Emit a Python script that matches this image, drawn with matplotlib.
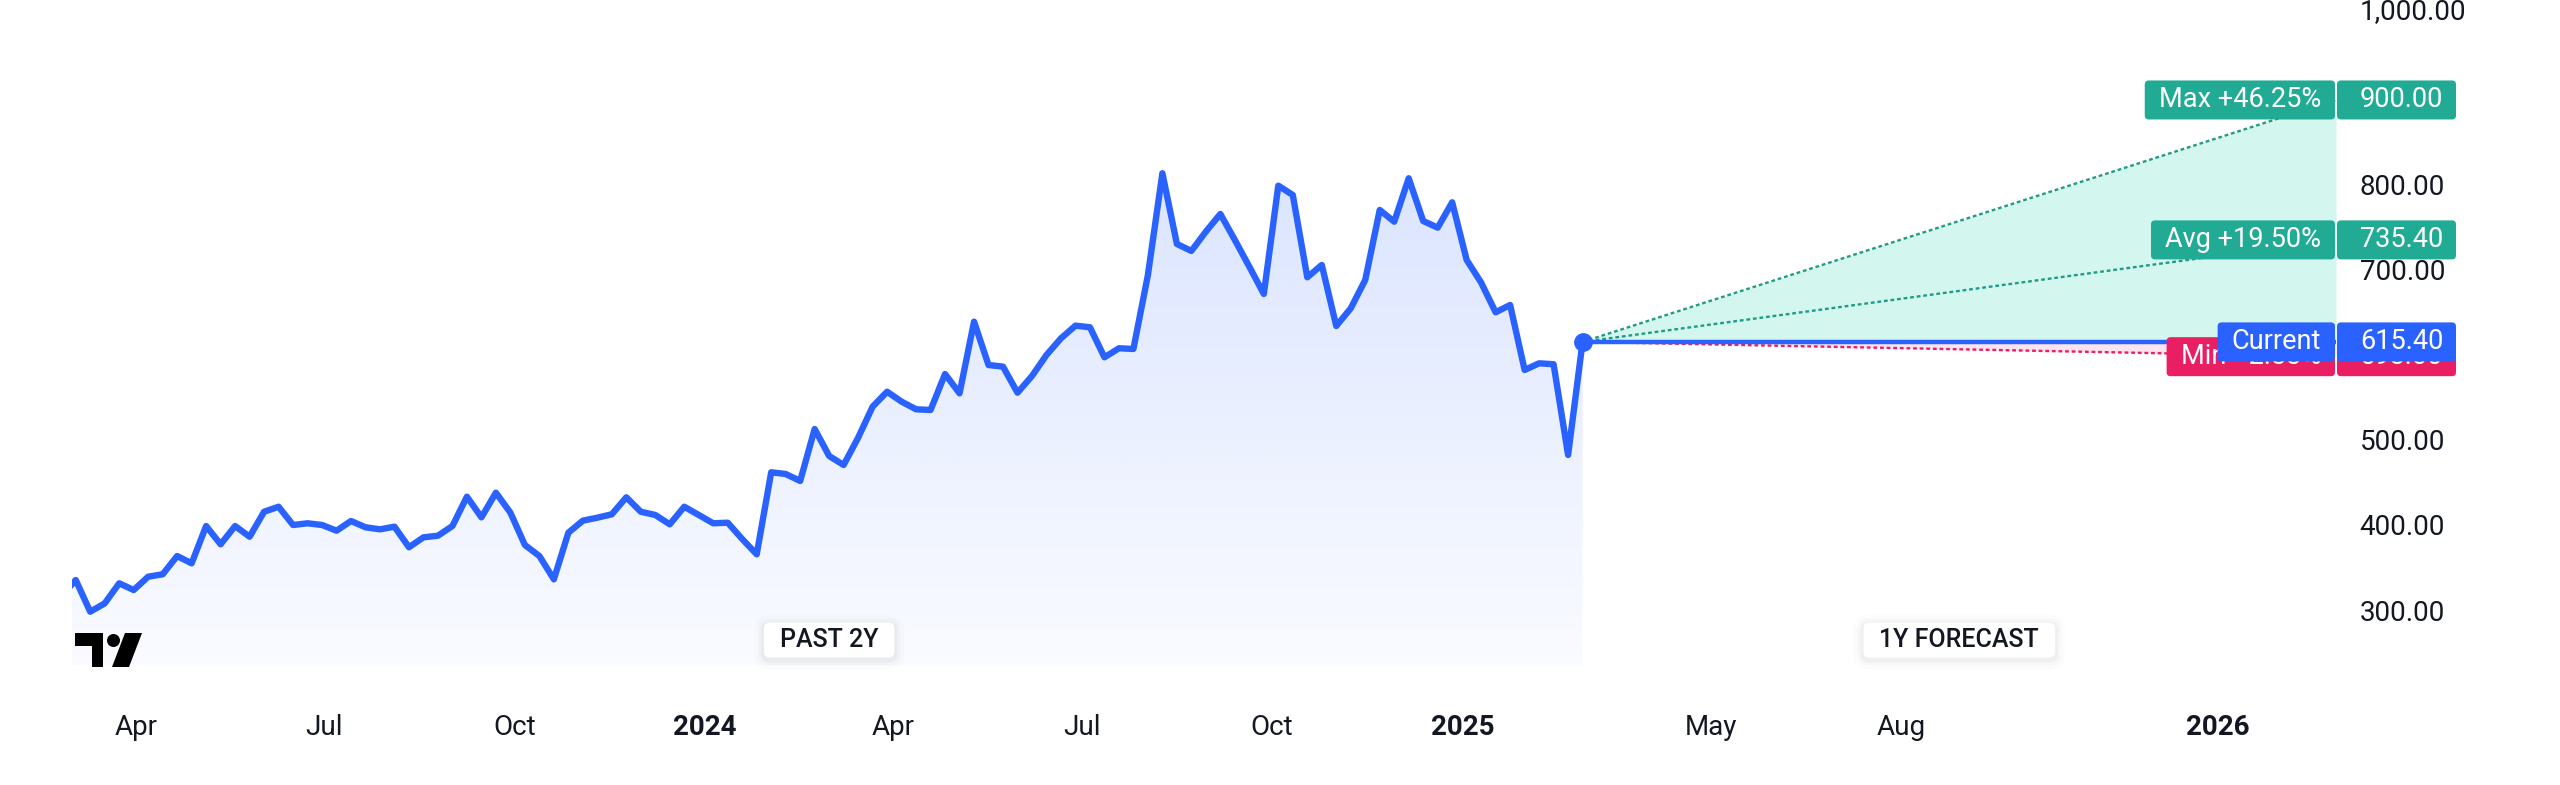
import numpy as np
import pandas as pd
import matplotlib
matplotlib.use('Agg')
import matplotlib.pyplot as plt
import matplotlib.dates as mdates
import matplotlib.transforms as mtransforms
from matplotlib.colors import to_rgb
from matplotlib.patches import FancyBboxPatch, Rectangle, Circle, Polygon

plt.rcParams['font.family'] = ['Roboto', 'DejaVu Sans']

# weekly closes for the past two years
prices = [316.0, 335.3, 298.0, 307.8, 331.4, 323.5, 339.2, 342.0, 363.5, 354.9,
          398.8, 377.3, 398.8, 386.2, 415.6, 421.5, 400.0, 402.0, 400.0, 393.3,
          404.7, 397.3, 394.9, 398.0, 373.8, 385.5, 387.4, 398.8, 433.3, 409.0,
          438.0, 414.5, 376.5, 363.5, 336.1, 390.9, 405.1, 408.6, 412.6, 432.6,
          415.6, 411.8, 400.8, 421.5, 411.8, 402.0, 402.7, 383.5, 365.5, 462.0,
          460.0, 451.8, 512.9, 481.2, 470.6, 502.7, 539.2, 556.8, 545.1, 536.1,
          535.3, 577.6, 554.9, 639.2, 588.2, 586.3, 555.6, 575.3, 600.0, 619.6,
          634.5, 632.6, 597.3, 607.9, 607.1, 694.1, 813.8, 730.6, 722.4, 745.1,
          765.9, 735.3, 703.9, 671.8, 799.2, 788.2, 691.4, 705.9, 634.1, 654.9,
          688.2, 770.6, 756.8, 807.9, 757.6, 749.8, 779.6, 711.8, 685.1, 650.2,
          658.8, 582.4, 590.2, 589.1, 482.4, 615.4]
dates = pd.date_range(end='2025-02-28', periods=len(prices), freq='7D')

current = 615.40
fc_max = 900.00
fc_avg = 735.40
fc_min = 598.00
fc_end = pd.Timestamp('2026-02-27')

y_ticks = [300, 400, 500, 700, 800, 1000]
y_tick_labels = ['300.00', '400.00', '500.00', '700.00', '800.00', '1,000.00']
x_ticks = ['2023-04-01', '2023-07-01', '2023-10-01', '2024-01-01', '2024-04-01',
           '2024-07-01', '2024-10-01', '2025-01-01', '2025-05-01', '2025-08-01',
           '2026-01-01']
x_tick_labels = ['Apr', 'Jul', 'Oct', '2024', 'Apr', 'Jul', 'Oct', '2025',
                 'May', 'Aug', '2026']

BLUE = '#2962ff'
TEAL = '#22ab94'
RED = '#e91e63'
INK = '#131722'

tags = [('Max +46.25%', '900.00', fc_max, TEAL),
        ('Avg +19.50%', '735.40', fc_avg, TEAL),
        ('Min \u22122.83%', '598.00', fc_min, RED),
        ('Current', '615.40', current, BLUE)]

W, H = 2560, 785
fig = plt.figure(figsize=(W / 100, H / 100), dpi=100)
ax = fig.add_axes([72 / W, 120 / H, (2336 - 72) / W, 665 / H])
ylo, yhi = 235.3, 1017.6

xs = mdates.date2num(dates)
xe = mdates.date2num(fc_end)

# gradient area under the price line
area = ax.fill_between(xs, prices, ylo, facecolor='none', edgecolor='none')
img = np.zeros((256, 1, 4))
img[..., :3] = to_rgb(BLUE)
img[..., 3] = np.linspace(0.17, 0.025, 256)[:, None]
im = ax.imshow(img, extent=[xs[0], xs[-1], ylo, 820], aspect='auto',
               origin='upper', interpolation='bicubic', zorder=1)
im.set_clip_path(area.get_paths()[0], transform=ax.transData)

ax.plot(xs, prices, color=BLUE, lw=4.6, zorder=4, solid_joinstyle='round')

# forecast fan
fx = [xs[-1], xe]
ax.fill_between(fx, [current, current], [current, fc_max], color='#d3f6ee', lw=0, zorder=1)
ax.fill_between(fx, [current, fc_min], [current, current], color='#fce3ec', lw=0, zorder=1)
dots = (0, (1.6, 1.2))
ax.plot(fx, [current, fc_max], ls=dots, color='#1f9c86', lw=1.7, zorder=3)
ax.plot(fx, [current, fc_avg], ls=dots, color='#1f9c86', lw=1.7, zorder=3)
ax.plot(fx, [current, fc_min], ls=dots, color=RED, lw=1.7, zorder=3)
ax.plot(fx, [current, current], color=BLUE, lw=3.2, zorder=3)
ax.plot(xs[-1], current, 'o', ms=12.5, color=BLUE, zorder=5)

ax.set_xlim(xs[1] - 1.8, xe)
ax.set_ylim(ylo, yhi)
for s in ax.spines.values():
    s.set_visible(False)

ax.yaxis.tick_right()
ax.set_yticks(y_ticks, y_tick_labels)
ax.tick_params(axis='y', length=0, pad=17, labelsize=20, labelcolor=INK)
ax.set_xticks(mdates.date2num(pd.to_datetime(x_ticks)), x_tick_labels)
ax.tick_params(axis='x', length=0, pad=35, labelsize=20, labelcolor=INK)
for lbl in ax.get_xticklabels():
    if lbl.get_text().isdigit():
        lbl.set_fontweight('bold')
# the top price label sits half outside the picture
top = ax.yaxis.get_major_ticks()[-1].label2
top.set_transform(top.get_transform() + mtransforms.ScaledTranslation(0, 6 / 100, fig.dpi_scale_trans))

# price tags at the right edge
r = fig.canvas.get_renderer()
trans = mtransforms.blended_transform_factory(ax.transAxes, ax.transData)
ident = mtransforms.IdentityTransform()
for i, (label, val, v, col) in enumerate(tags):
    z = 10 + 3 * i
    px, py = trans.transform((1.0, v))
    t = ax.annotate(label, xy=(1.0, v), xycoords=trans, xytext=(-15, 0),
                    textcoords='offset pixels', ha='right', va='center',
                    color='white', fontsize=19.5, zorder=z + 1, annotation_clip=False)
    w = t.get_window_extent(r).width
    ax.add_patch(FancyBboxPatch((px - w - 29, py - 19.5), w + 28, 39,
                                boxstyle='round,pad=0,rounding_size=4',
                                fc=col, ec='none', transform=ident, clip_on=False, zorder=z))
    ax.add_patch(FancyBboxPatch((px + 1, py - 19.5), 119, 39,
                                boxstyle='round,pad=0,rounding_size=4',
                                fc=col, ec='none', transform=ident, clip_on=False, zorder=z))
    ax.annotate(val, xy=(1.0, v), xycoords=trans, xytext=(24, 0),
                textcoords='offset pixels', ha='left', va='center',
                color='white', fontsize=19.5, zorder=z + 1, annotation_clip=False)

# period pills
ptrans = mtransforms.blended_transform_factory(ax.transData, ax.transAxes)
for label, xm in [('PAST 2Y', (xs[1] + xs[-1]) / 2), ('1Y FORECAST', (xs[-1] + xe) / 2)]:
    t = ax.text(xm, 25 / 665, label, transform=ptrans, ha='center', va='center',
                fontsize=18, fontweight='medium', color=INK, zorder=21)
    bb = t.get_window_extent(r)
    cx, cy = ptrans.transform((xm, 25 / 665))
    bw = bb.width + 32
    for k, a in [(10, 0.012), (6, 0.02), (3, 0.03)]:
        ax.add_patch(FancyBboxPatch((cx - bw / 2 - k, cy - 17.5 - k - 2), bw + 2 * k, 35 + 2 * k,
                                    boxstyle='round,pad=0,rounding_size=%d' % (6 + k),
                                    fc='black', alpha=a, ec='none', transform=ident,
                                    clip_on=False, zorder=19))
    ax.add_patch(FancyBboxPatch((cx - bw / 2, cy - 17.5), bw, 35,
                                boxstyle='round,pad=0,rounding_size=6',
                                fc='white', ec='none', transform=ident, clip_on=False, zorder=20))

# logo
lg = fig.add_axes([75 / W, (H - 667) / H, 67 / W, 34 / H])
lg.set_xlim(75, 142)
lg.set_ylim(667, 633)
lg.axis('off')
lg.add_patch(Rectangle((75, 633), 28, 13, fc='black', ec='none'))
lg.add_patch(Rectangle((91.5, 633), 11.5, 34, fc='black', ec='none'))
lg.add_patch(Circle((113.5, 640.5), 6.5, fc='black', ec='none'))
lg.add_patch(Polygon([(125, 633), (142, 633), (129, 667), (112, 667)], fc='black', ec='none'))

fig.savefig('out.png', dpi=100, facecolor='white')
